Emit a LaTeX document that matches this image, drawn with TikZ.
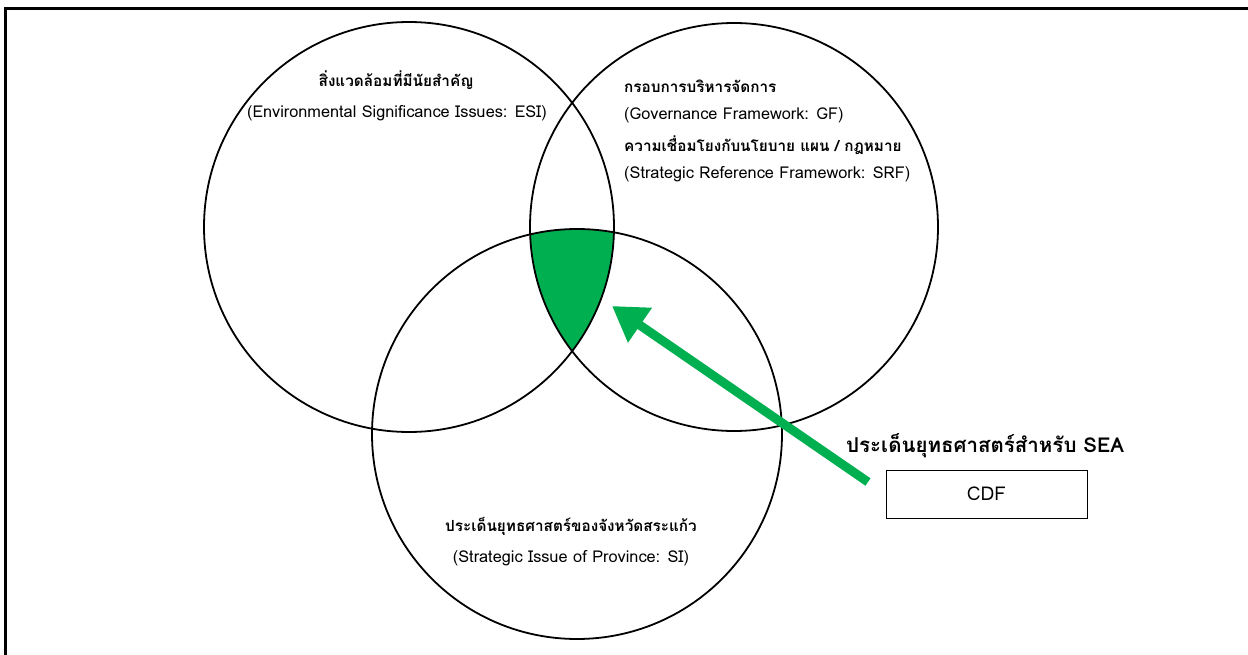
\documentclass[tikz,border=0pt]{standalone}
\usepackage{fontspec}
\usetikzlibrary{arrows.meta}
\newfontfamily\thai[Script=Thai]{Loma}
\definecolor{vgreen}{HTML}{00B050}
\tikzset{
  venn/.style={circle, draw=black, line width=1.8pt, minimum size=410pt, inner sep=0pt},
  ttl/.style={font=\thai\bfseries\fontsize{15.3}{17}\selectfont, inner sep=0pt},
  sub/.style={font=\thai\fontsize{16.3}{18}\selectfont, inner sep=0pt},
  cdfbox/.style={draw=black, line width=0.8pt, minimum width=201pt, minimum height=48pt, font=\thai\fontsize{19}{21}\selectfont}
}
\begin{document}
\begin{tikzpicture}[x=1pt,y=-1pt]
\useasboundingbox (0,0) rectangle (1248,655);
\fill[white] (0,0) rectangle (1248,655);
\draw[line width=3pt] (5,655) -- (5,9) -- (1248,9);
% green intersection
\begin{scope}
  \clip (409,227) circle[radius=205];
  \clip (734,227) circle[radius=204];
  \fill[vgreen] (577,434) circle[radius=205];
\end{scope}
\node[venn] (esi) at (409,227) {};
\node[venn, minimum size=408pt] (gf) at (734,227) {};
\node[venn] (si) at (577,434) {};
% texts
\node[ttl] (esiT) at (396,80) {สิ่งแวดล้อมที่มีนัยสำคัญ};
\node[sub] (esiS) at (397,113) {(Environmental Significance Issues: ESI)};
\node[ttl, anchor=west] (gfT) at (624,86) {กรอบการบริหารจัดการ};
\node[sub, anchor=west] (gfS) at (624,115) {(Governance Framework: GF)};
\node[ttl, anchor=west] (srfT) at (624,145) {ความเชื่อมโยงกับนโยบาย\ แผน / กฎหมาย};
\node[sub, anchor=west] (srfS) at (624,174) {(Strategic Reference Framework: SRF)};
\node[ttl] (siT) at (571,526) {ประเด็นยุทธศาสตร์ของจังหวัดสระแก้ว};
\node[sub] (siS) at (571,558) {(Strategic Issue of Province: SI)};
\node[ttl, font=\thai\bfseries\fontsize{20.5}{23}\selectfont, anchor=west] (seaT) at (846,446) {ประเด็นยุทธศาสตร์สำหรับ SEA};
\node[cdfbox] (cdf) at (986.5,494) {CDF};
% arrow
\coordinate (arrS) at (868,482);
\coordinate (arrE) at (612,306);
\draw[vgreen, line width=9pt, -{Triangle[length=34pt, width=40pt]}] (arrS) -- (arrE);
\end{tikzpicture}
\end{document}
